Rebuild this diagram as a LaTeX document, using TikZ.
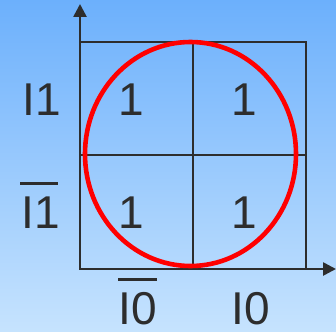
\documentclass[tikz,border=0pt]{standalone}
\usepackage{fontspec}
\setmainfont{Liberation Sans}
\usetikzlibrary{arrows.meta}
\definecolor{bgtop}{RGB}{108,176,252}
\definecolor{bgbot}{RGB}{198,227,254}
\definecolor{ink}{RGB}{45,45,45}
\begin{document}
\begin{tikzpicture}[x=1pt,y=-1pt,
  gridline/.style={draw=ink,line width=2.6pt},
  axisline/.style={draw=ink,line width=2.6pt,-{Triangle[width=13pt,length=13pt]}},
  lbl/.style={font=\fontsize{46}{46}\selectfont,text=ink,inner sep=0pt,anchor=base,text depth=0pt},
  barline/.style={draw=ink,line width=3pt},
  loop/.style={draw=red,line width=4.6pt}]
\useasboundingbox (0,0) rectangle (336,331);
\shade[top color=bgtop,bottom color=bgbot] (0,0) rectangle (336,331);
% grid corners
\coordinate (tl) at (80,42);
\coordinate (br) at (306,269);
\coordinate (tm) at (193,42);
\coordinate (bm) at (193,269);
\coordinate (ml) at (80,155);
\coordinate (mr) at (306,155);
\coordinate (o) at (80,269);
\coordinate (ytip) at (80,4);
\coordinate (xtip) at (336,269);
\draw[gridline] (tl) rectangle (br);
\draw[gridline] (tm) -- (bm);
\draw[gridline] (ml) -- (mr);
\draw[axisline] (o) -- (ytip);
\draw[axisline] (o) -- (xtip);
% cells
\node[lbl] (c11) at (131,115) {1};
\node[lbl] (c12) at (244,115) {1};
\node[lbl] (c21) at (131,228) {1};
\node[lbl] (c22) at (244,228) {1};
% row labels
\node[lbl] (r1) at (42,115) {I1};
\node[lbl] (r0) at (41,228) {I1};
\coordinate (r0a) at (20,183);
\coordinate (r0b) at (58,183);
\draw[barline] (r0a) -- (r0b);
% column labels
\node[lbl] (k0) at (138,324) {I0};
\node[lbl] (k1) at (251,324) {I0};
\coordinate (k0a) at (118,279);
\coordinate (k0b) at (157,279);
\draw[barline] (k0a) -- (k0b);
% loop
\coordinate (cc) at (190.5,154);
\draw[loop] (cc) ellipse [x radius=105.5, y radius=112];
\end{tikzpicture}
\end{document}
